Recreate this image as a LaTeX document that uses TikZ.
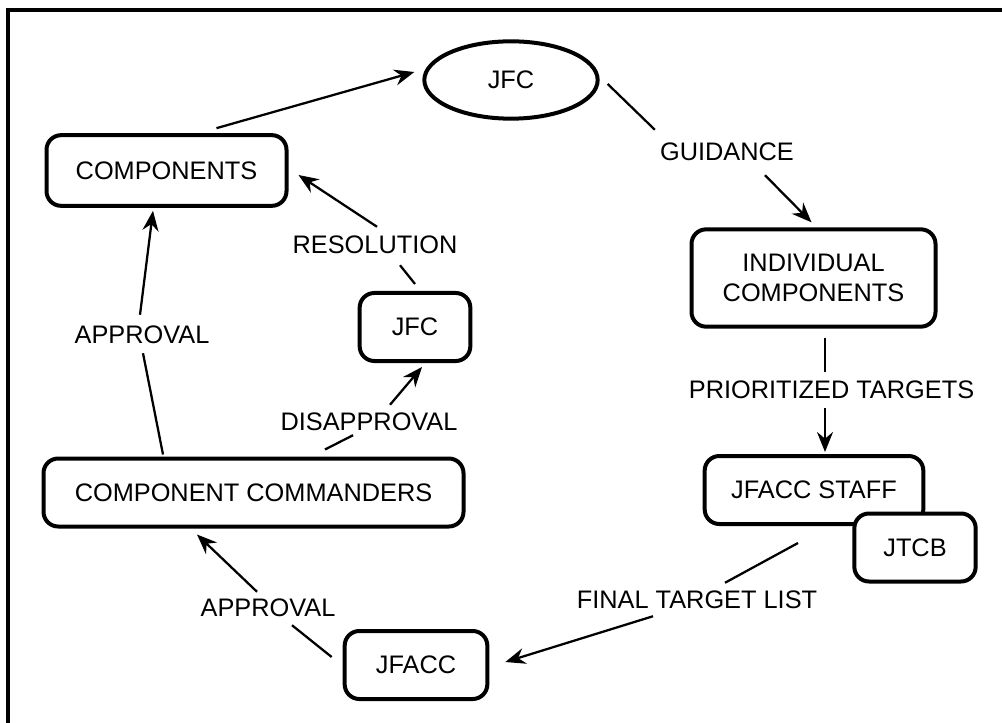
\documentclass[tikz,border=0pt]{standalone}
\usepackage{fontspec}
\setmainfont{Liberation Sans}
\usetikzlibrary{arrows.meta,calc,shapes.geometric}

\tikzset{
  box/.style={draw, line width=3pt, rounded corners=11pt, fill=white,
              align=center, inner sep=0pt, font=\fontsize{19pt}{23pt}\selectfont},
  oval/.style={draw, ellipse, line width=3pt, fill=white, inner sep=0pt,
               font=\fontsize{19pt}{23pt}\selectfont},
  lbl/.style={inner sep=0pt, font=\fontsize{19pt}{23pt}\selectfont},
  link/.style={line width=1.7pt},
  flow/.style={line width=1.7pt, -{Stealth[length=15pt, width=12pt, inset=5pt]}}
}

\begin{document}
\begin{tikzpicture}[x=0.75pt, y=-0.75pt]
\useasboundingbox (0,0) rectangle (1002,723);

% frame
\draw[line width=2.4pt] (1002,10) -- (8,10) -- (8,723);

% boxes
\node[oval, minimum width=130pt, minimum height=58pt] (jfc) at (511,80) {JFC};
\node[box, minimum width=180pt, minimum height=53pt] (comp) at (166.5,170.5) {COMPONENTS};
\node[box, minimum width=183pt, minimum height=73pt] (indiv) at (813.5,278) {INDIVIDUAL\\COMPONENTS};
\node[box, minimum width=164pt, minimum height=51pt] (staff) at (814,490) {JFACC STAFF};
\node[box, minimum width=91pt, minimum height=51pt] (jtcb) at (915,547.5) {JTCB};
\node[box, minimum width=107pt, minimum height=51pt] (jfacc) at (416,665) {JFACC};
\node[box, minimum width=315pt, minimum height=51pt] (cc) at (253.5,492.5) {COMPONENT COMMANDERS};
\node[box, minimum width=83pt, minimum height=51pt] (jfc2) at (415,327) {JFC};

% labels
\node[lbl] (lguid) at (727,152) {GUIDANCE};
\node[lbl] (lprior) at (831.5,390) {PRIORITIZED TARGETS};
\node[lbl] (lfinal) at (697,600) {FINAL TARGET LIST};
\node[lbl] (lappr2) at (268,608) {APPROVAL};
\node[lbl] (ldis) at (369,422) {DISAPPROVAL};
\node[lbl] (lres) at (375,245) {RESOLUTION};
\node[lbl] (lappr1) at (142,335) {APPROVAL};

% components -> JFC
\draw[flow] ($(comp.north)+(50,-5)$) -- ($(jfc.west)+(-8,-8)$);
% JFC -> guidance -> individual components
\draw[link] ($(jfc.east)+(8,4)$) -- ($(lguid.north west)+(-5,-13)$);
\draw[flow] ($(lguid.south)+(38,14)$) -- ($(indiv.north)+(-2,-5)$);
% individual components -> prioritized targets -> JFACC staff
\draw[link] ($(indiv.south)+(11.5,9)$) -- ($(lprior.north)+(-6.5,-9)$);
\draw[flow] ($(lprior.south)+(-6.5,9)$) -- ($(staff.north)+(11,-2)$);
% JFACC staff -> final target list -> JFACC
\draw[link] ($(staff.south)+(-16,17)$) -- ($(lfinal.north)+(28,-8)$);
\draw[flow] ($(lfinal.south)+(-44,7)$) -- ($(jfacc.east)+(16,-3)$);
% JFACC -> approval -> component commanders
\draw[link] ($(jfacc.west)+(-11,-8)$) -- ($(lappr2.south)+(24,8)$);
\draw[flow] ($(lappr2.north)+(-11,-7)$) -- ($(cc.south)+(-56.5,6)$);
% component commanders -> disapproval -> JFC
\draw[link] ($(cc.north)+(71.5,-7)$) -- ($(ldis.south)+(-16,4)$);
\draw[flow] ($(ldis.north)+(21,-8)$) -- ($(jfc2.south)+(7,4)$);
% JFC -> resolution -> components
\draw[link] ($(jfc2.north)+(0,-7)$) -- ($(lres.south)+(25,11)$);
\draw[flow] ($(lres.north)+(2,-9)$) -- ($(comp.east)+(10,4.5)$);
% component commanders -> approval -> components
\draw[link] ($(cc.north)+(-90.5,-2)$) -- ($(lappr1.south)+(1,9)$);
\draw[flow] ($(lappr1.north)+(-2,-11)$) -- ($(comp.south)+(-13.5,3)$);
\end{tikzpicture}
\end{document}
